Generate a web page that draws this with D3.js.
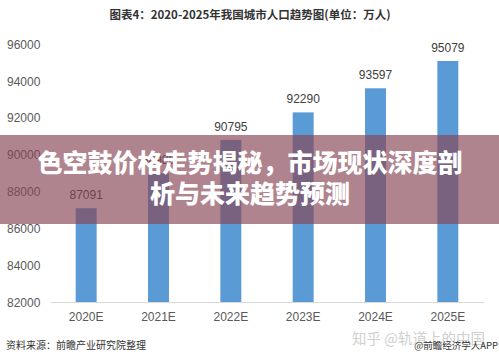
<!DOCTYPE html>
<html>
<head>
<meta charset="utf-8">
<script src="https://cdn.jsdelivr.net/npm/d3@7/dist/d3.min.js"></script>
<style>
  html, body { margin: 0; padding: 0; background: #fff; }
  svg { display: block; }
</style>
</head>
<body>
<script>
const categories = ["2020E", "2021E", "2022E", "2023E", "2024E", "2025E"];
const values = [87091, 88980, 90795, 92290, 93597, 95079];
const yTicks = [82000, 84000, 86000, 88000, 90000, 92000, 94000, 96000];
const chartTitle = "图表4：2020-2025年我国城市人口趋势图(单位：万人)";
const sourceText = "资料来源：前瞻产业研究院整理";
const creditText = "@前瞻经济学人APP";
const watermarkText = "知乎 @轨道上的中国";
const overlayLines = ["色空鼓价格走势揭秘，市场现状深度剖", "析与未来趋势预测"];

const W = 499, H = 360;
const svg = d3.select("body").append("svg").attr("width", W).attr("height", H);
const font = "'Liberation Sans', Arial, 'Noto Sans CJK SC', sans-serif";
const cjk = "'Noto Sans CJK SC', 'Liberation Sans', sans-serif";

svg.append("rect").attr("width", W).attr("height", H).attr("fill", "#fff");

const x = d3.scaleBand().domain(categories).range([50, 484]).paddingInner(0.71).paddingOuter(0.355);
const y = d3.scaleLinear().domain([82000, 96000]).range([302, 44]);

// Title
svg.append("text").attr("x", 250).attr("y", 19).attr("text-anchor", "middle")
  .attr("font-family", cjk).attr("font-weight", "bold").attr("font-size", 11.5)
  .attr("fill", "#333").text(chartTitle);

// Y axis labels (no line)
const yAxis = d3.axisLeft(y).tickValues(yTicks).tickSize(0).tickFormat(d3.format("d"));
const yg = svg.append("g").attr("transform", "translate(7,0)").call(yAxis);
yg.select(".domain").remove();
yg.selectAll("text").attr("text-anchor", "start").attr("x", 0).attr("dy", "0.35em")
  .attr("font-family", font).attr("font-size", 12).attr("fill", "#595959");

// X axis
const xAxis = d3.axisBottom(x).tickSize(0).tickPadding(10);
const xg = svg.append("g").attr("transform", "translate(0,302)").call(xAxis);
xg.select(".domain").attr("stroke", "#d9d9d9").attr("stroke-width", 1);
xg.selectAll("text").attr("font-family", font).attr("font-size", 12).attr("fill", "#595959");

// Bars
svg.append("g").selectAll("rect").data(values).join("rect")
  .attr("x", (d, i) => x(categories[i]))
  .attr("width", x.bandwidth())
  .attr("y", d => y(d))
  .attr("height", d => y(82000) - y(d))
  .attr("fill", "#5b9bd5");

// Value labels
svg.append("g").selectAll("text").data(values).join("text")
  .attr("x", (d, i) => x(categories[i]) + x.bandwidth() / 2)
  .attr("y", d => y(d) - 9)
  .attr("text-anchor", "middle")
  .attr("font-family", font).attr("font-size", 12).attr("fill", "#404040")
  .text(d => d);

// Footer
svg.append("text").attr("x", 6).attr("y", 349)
  .attr("font-family", cjk).attr("font-size", 10).attr("fill", "#333").text(sourceText);
svg.append("text").attr("x", 352).attr("y", 344)
  .attr("font-family", cjk).attr("font-size", 14.5).attr("fill", "#cfcfcf").text(watermarkText);
svg.append("text").attr("x", 498).attr("y", 349).attr("text-anchor", "end")
  .attr("font-family", cjk).attr("font-size", 9.5).attr("fill", "#333").text(creditText);

// Overlay banner
svg.append("rect").attr("x", 0).attr("y", 135).attr("width", W).attr("height", 89)
  .attr("fill", "rgb(135,69,84)").attr("fill-opacity", 0.66);
svg.append("g").selectAll("text").data(overlayLines).join("text")
  .attr("x", 250).attr("y", (d, i) => 172 + i * 31)
  .attr("text-anchor", "middle")
  .attr("font-family", cjk).attr("font-weight", 900).attr("font-size", 25)
  .attr("fill", "#fff").text(d => d);
</script>
</body>
</html>
